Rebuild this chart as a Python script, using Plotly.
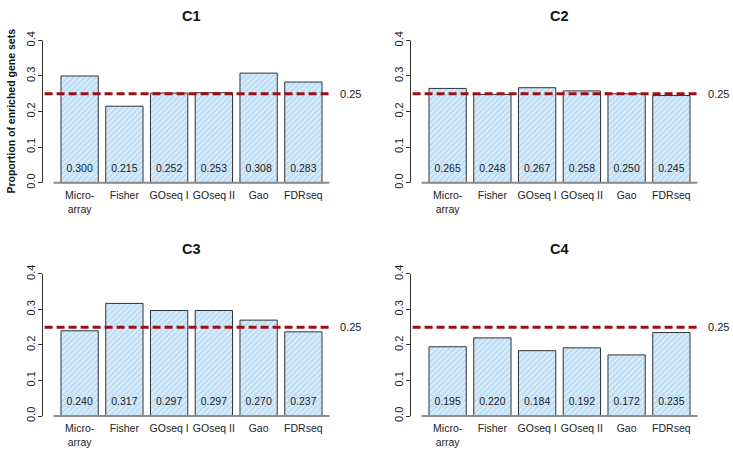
import plotly.graph_objects as go

# ---- data ----
categories = ["Micro-<br>array", "Fisher", "GOseq I", "GOseq II", "Gao", "FDRseq"]
panel_titles = ["C1", "C2", "C3", "C4"]
c1_values = [0.300, 0.215, 0.252, 0.253, 0.308, 0.283]
c2_values = [0.265, 0.248, 0.267, 0.258, 0.250, 0.245]
c3_values = [0.240, 0.317, 0.297, 0.297, 0.270, 0.237]
c4_values = [0.195, 0.220, 0.184, 0.192, 0.172, 0.235]
reference_level = 0.25
y_ticks = [0.0, 0.1, 0.2, 0.3, 0.4]
y_title = "Proportion of enriched gene sets"

# ---- layout constants ----
W, H = 733, 455
FONT = "Liberation Sans, Arial, Helvetica, sans-serif"
TXT = "#222222"
LABEL_Y = 0.037
BAR_W = 1.0
SPACE = 0.2
positions = [SPACE + i * (BAR_W + SPACE) + BAR_W / 2 for i in range(len(categories))]
x_end = SPACE + len(categories) * (BAR_W + SPACE)  # 7.4
x_range = [-0.04 * x_end, x_end * 1.04]
y_range = [-0.016, 0.416]

# pixel domains (left, right), (top, bottom)
x_doms_px = [(42.5, 340.5), (410.5, 708.5)]
y_doms_px = [(31.0, 186.0), (266.6, 421.4)]

all_values = [c1_values, c2_values, c3_values, c4_values]

fig = go.Figure()
layout = dict(
    width=W, height=H,
    margin=dict(l=0, r=0, t=0, b=0),
    paper_bgcolor="white", plot_bgcolor="white",
    showlegend=False,
    font=dict(family=FONT, size=11, color=TXT),
)
shapes = []
annotations = []

for k, vals in enumerate(all_values):
    row, col = divmod(k, 2)
    idx = "" if k == 0 else str(k + 1)
    xa, ya = "x" + idx, "y" + idx
    xl, xr = x_doms_px[col]
    yt, yb = y_doms_px[row]
    layout["xaxis" + idx] = dict(
        domain=[xl / W, xr / W], range=x_range, anchor=ya,
        showgrid=False, zeroline=False, showline=False, ticks="",
        tickmode="array", tickvals=positions, ticktext=categories,
        ticklabelstandoff=-1,
        tickfont=dict(size=10.5, color=TXT, family=FONT), fixedrange=True,
    )
    layout["yaxis" + idx] = dict(
        domain=[1 - yb / H, 1 - yt / H], range=y_range, anchor=xa,
        showgrid=False, zeroline=False, showline=False,
        ticks="outside", ticklen=4, tickcolor="#333333", tickwidth=1,
        tickmode="array", tickvals=y_ticks, ticklabelstandoff=-2,
        ticktext=[f"{v:.1f}" for v in y_ticks], tickangle=-90,
        tickfont=dict(size=11, color=TXT, family=FONT), fixedrange=True,
    )
    fig.add_trace(go.Bar(
        x=positions, y=vals, width=[BAR_W] * len(vals),
        xaxis=xa, yaxis=ya,
        marker=dict(
            color="#cfe6f8",
            line=dict(color="#333333", width=1),
            pattern=dict(shape="/", fgcolor="#94c5ec", bgcolor="#d8ecfb",
                         size=4, solidity=0.4),
        ),
        hoverinfo="skip",
    ))
    fig.add_trace(go.Scatter(
        x=positions, y=[LABEL_Y] * len(vals), xaxis=xa, yaxis=ya,
        mode="text", text=[f"{v:.3f}" for v in vals],
        textposition="middle center",
        textfont=dict(size=10.5, color=TXT, family=FONT),
        hoverinfo="skip",
    ))
    # y axis line (R style, only across tick span)
    shapes.append(dict(type="line", xref=xa + " domain", yref=ya,
                       x0=0, x1=0, y0=y_ticks[0], y1=y_ticks[-1],
                       line=dict(color="#333333", width=1)))
    # baseline
    shapes.append(dict(type="line", xref=xa, yref=ya,
                       x0=0, x1=x_end, y0=0, y1=0,
                       line=dict(color="#8c8c8c", width=2)))
    # reference dashed line
    shapes.append(dict(type="line", xref=xa, yref=ya,
                       x0=-0.24, x1=x_end, y0=reference_level, y1=reference_level,
                       line=dict(color="#9b1016", width=3, dash="8px,4px")))
    annotations.append(dict(
        xref=xa + " domain", yref=ya, x=1, y=reference_level,
        xanchor="left", yanchor="middle", xshift=-3, showarrow=False,
        text=f"{reference_level:.2f}", font=dict(size=11, color=TXT, family=FONT)))
    annotations.append(dict(
        xref=xa + " domain", yref=ya + " domain", x=0.5, y=1,
        xanchor="center", yanchor="middle", yshift=19, showarrow=False,
        text=f"<b>{panel_titles[k]}</b>", font=dict(size=14.5, color="#111111", family=FONT)))

annotations.append(dict(
    xref="paper", yref="paper", x=11 / W, y=1 - 108.5 / H,
    xanchor="center", yanchor="middle", textangle=-90, showarrow=False,
    text=f"<b>{y_title}</b>", font=dict(size=10.5, color="#111111", family=FONT)))

layout["shapes"] = shapes
layout["annotations"] = annotations
fig.update_layout(**layout)
fig.write_html(
    "out.html",
    include_plotlyjs=True,
    config={"displayModeBar": False, "staticPlot": True},
    post_script="document.body.style.margin='0';document.body.style.overflow='hidden';",
)
